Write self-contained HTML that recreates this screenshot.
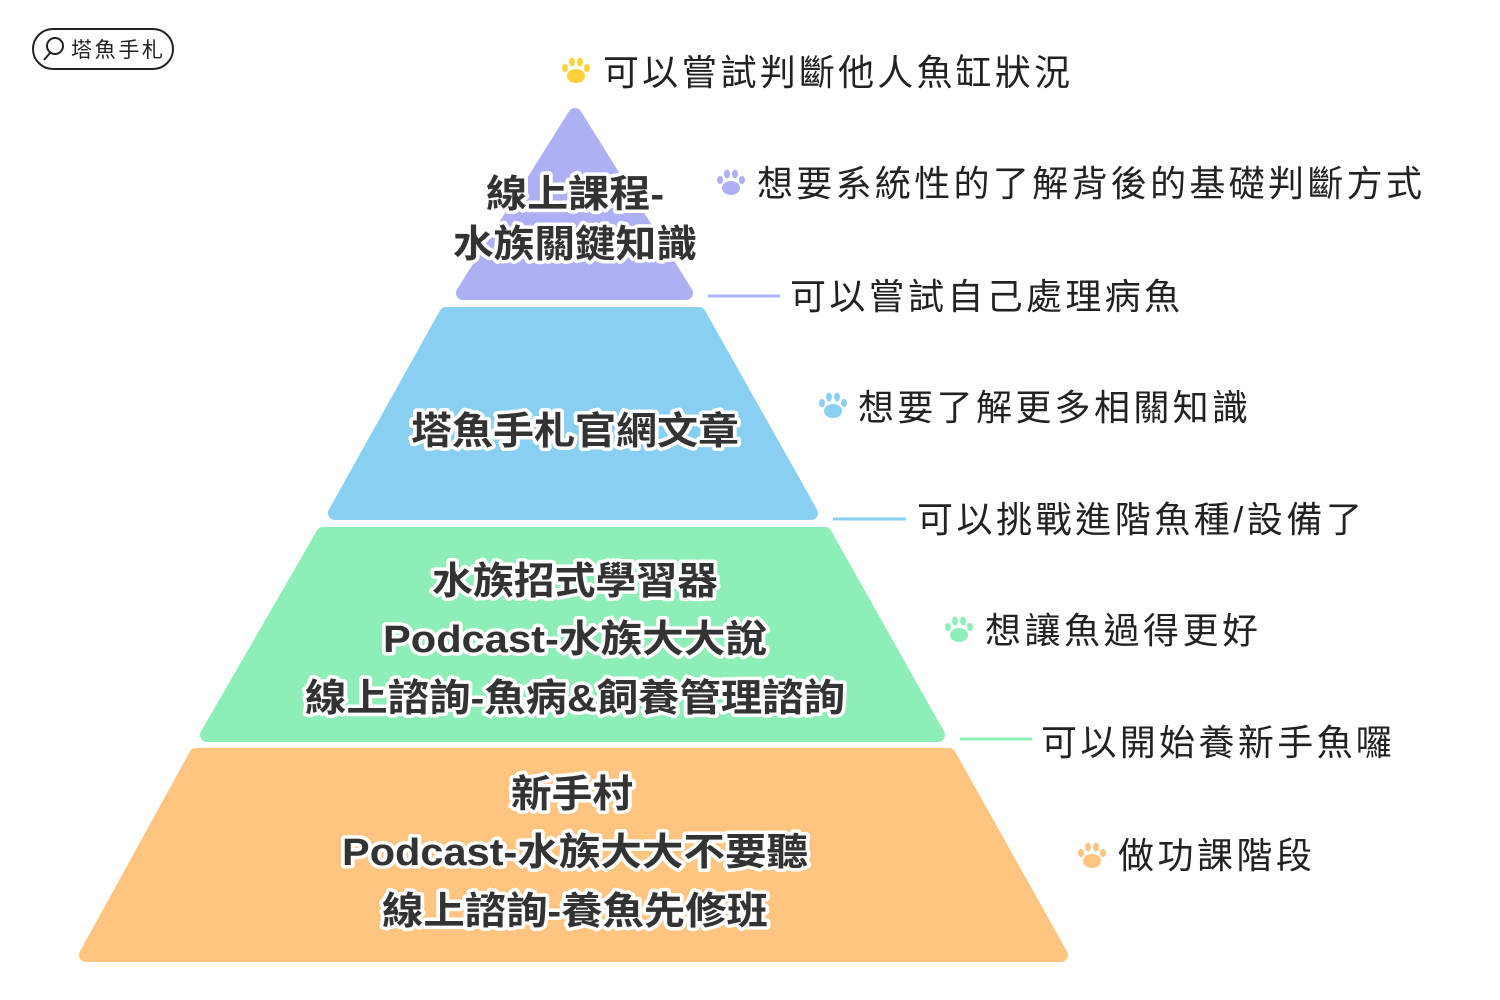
<!DOCTYPE html>
<html><head><meta charset="utf-8"><style>
html,body{margin:0;padding:0;background:#fff;}
svg{display:block}
.r{font-family:"Liberation Sans","Noto Sans CJK TC",sans-serif;font-size:36px;fill:#222;}
.c{font-family:"Liberation Sans","Noto Sans CJK TC",sans-serif;font-size:38px;font-weight:bold;fill:#333;stroke:#fff;stroke-width:7;paint-order:stroke;stroke-linejoin:round;text-anchor:middle;}
</style></head><body>
<svg width="1500" height="1000" viewBox="0 0 1500 1000" xmlns="http://www.w3.org/2000/svg">
<defs>
<g id="paw">
<ellipse cx="0" cy="5" rx="9" ry="7"/>
<ellipse cx="-11" cy="-3" rx="3" ry="4"/>
<ellipse cx="-4" cy="-9" rx="3" ry="4.5"/>
<ellipse cx="4" cy="-9" rx="3" ry="4.5"/>
<ellipse cx="11" cy="-3" rx="3" ry="4"/>
</g>
</defs>
<!-- logo -->
<rect x="33" y="29" width="140" height="40" rx="20" fill="none" stroke="#222" stroke-width="2"/>
<circle cx="55" cy="46" r="8" fill="none" stroke="#222" stroke-width="2"/>
<line x1="50" y1="53" x2="44" y2="60" stroke="#222" stroke-width="2"/>
<text x="71" y="57" font-family="Liberation Sans,Noto Sans CJK TC,sans-serif" font-size="21" fill="#222" textLength="92">塔魚手札</text>

<!-- pyramid -->
<g stroke-linejoin="round" stroke-width="14">
<polygon points="575,115 686,293 463,293" fill="#aeb0f5" stroke="#aeb0f5"/>
<polygon points="446,314 699,314 811,513 335,513" fill="#88cff2" stroke="#88cff2"/>
<polygon points="323,534 825,534 938,735 207,735" fill="#8eeeb8" stroke="#8eeeb8"/>
<polygon points="196,755 949,755 1061,955 86,955" fill="#ffc47f" stroke="#ffc47f"/>
</g>

<text class="c" x="575" y="207" textLength="178" lengthAdjust="spacingAndGlyphs">線上課程-</text>
<text class="c" x="575" y="257" textLength="244" lengthAdjust="spacingAndGlyphs">水族關鍵知識</text>
<text class="c" x="575" y="444" textLength="328" lengthAdjust="spacingAndGlyphs">塔魚手札官網文章</text>
<text class="c" x="575" y="594" textLength="286" lengthAdjust="spacingAndGlyphs">水族招式學習器</text>
<text class="c" x="575" y="652" textLength="384" lengthAdjust="spacingAndGlyphs">Podcast-水族大大說</text>
<text class="c" x="575" y="711" textLength="540" lengthAdjust="spacingAndGlyphs">線上諮詢-魚病&amp;飼養管理諮詢</text>
<text class="c" x="572" y="807" textLength="122" lengthAdjust="spacingAndGlyphs">新手村</text>
<text class="c" x="575" y="865" textLength="466" lengthAdjust="spacingAndGlyphs">Podcast-水族大大不要聽</text>
<text class="c" x="575" y="924" textLength="386" lengthAdjust="spacingAndGlyphs">線上諮詢-養魚先修班</text>

<!-- lines -->
<line x1="708" y1="296" x2="780" y2="296" stroke="#aeb0f5" stroke-width="3"/>
<line x1="833" y1="519" x2="906" y2="519" stroke="#88cff2" stroke-width="3"/>
<line x1="960" y1="739" x2="1032" y2="739" stroke="#8eeeb8" stroke-width="3"/>

<!-- paws -->
<use href="#paw" x="576" y="71" fill="#f9d23c"/>
<use href="#paw" x="731" y="183" fill="#aeb0f5"/>
<use href="#paw" x="833" y="406" fill="#88cff2"/>
<use href="#paw" x="959" y="630" fill="#8eeeb8"/>
<use href="#paw" x="1092" y="856" fill="#ffc47f"/>

<!-- right texts -->
<text class="r" x="603" y="85" textLength="467">可以嘗試判斷他人魚缸狀況</text>
<text class="r" x="757" y="196" textLength="665">想要系統性的了解背後的基礎判斷方式</text>
<text class="r" x="790" y="309" textLength="390">可以嘗試自己處理病魚</text>
<text class="r" x="858" y="420" textLength="390">想要了解更多相關知識</text>
<text class="r" x="917" y="532" textLength="445">可以挑戰進階魚種/設備了</text>
<text class="r" x="985" y="643" textLength="273">想讓魚過得更好</text>
<text class="r" x="1041" y="755" textLength="351">可以開始養新手魚囉</text>
<text class="r" x="1118" y="868" textLength="194">做功課階段</text>
</svg>
</body></html>
